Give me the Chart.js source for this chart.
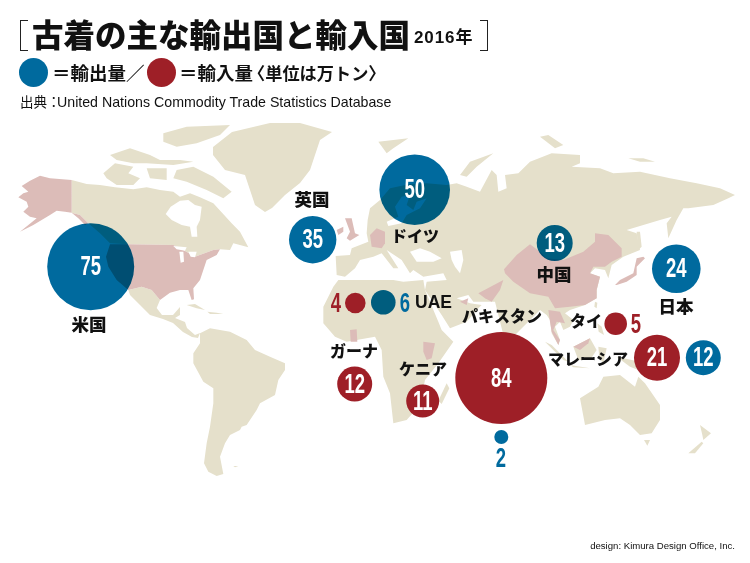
<!DOCTYPE html>
<html lang="ja">
<head>
  <meta charset="UTF-8" />
  <title>古着の主な輸出国と輸入国</title>
  <script src="https://cdn.jsdelivr.net/npm/chart.js"></script>
  <style>
    html, body { margin: 0; padding: 0; background: #fff; }
    body { width: 750px; height: 563px; position: relative; overflow: hidden; font-family: "Noto Sans CJK JP", sans-serif; color: #111; }
    canvas { position: absolute; left: 0; top: 0; }
    .abs { position: absolute; white-space: nowrap; line-height: 1; }
    .bracket { position: absolute; top: 20px; width: 7px; height: 29px; border: 1.5px solid #222; }
    .dot { position: absolute; top: 58px; width: 29px; height: 29px; border-radius: 50%; }
  </style>
</head>
<body>
  <canvas id="map" width="750" height="563"></canvas>

  <div class="bracket" style="left:20px;border-right:none"></div>
  <div class="abs" style="left:32px;top:18px;font-size:31.5px;font-weight:900">古着の主な輸出国と輸入国</div>
  <div class="abs" style="left:414px;top:27px;font-size:17px;font-weight:700;letter-spacing:.9px"><span style="font-family:'Liberation Sans'">2016</span>年</div>
  <div class="bracket" style="left:480px;border-left:none"></div>

  <div class="dot" style="left:19px;background:#006a9e"></div>
  <div class="abs" style="left:52px;top:63px;font-size:18.5px;font-weight:700">＝輸出量／</div>
  <div class="dot" style="left:147px;background:#9e1f27"></div>
  <div class="abs" style="left:179px;top:63px;font-size:18.5px;font-weight:700">＝輸入量</div>
  <div class="abs" style="left:248px;top:64px;font-size:17.2px;font-weight:700">〈単位は万トン〉</div>
  <div class="abs" style="left:20px;top:95px;font-size:14.2px;font-family:'Liberation Sans'"><span style="font-family:'Noto Sans CJK JP';font-size:13.5px;display:inline-block;width:37px">出典：</span>United Nations Commodity Trade Statistics Database</div>
  <div class="abs" style="right:15px;top:541px;font-size:9.6px;font-family:'Liberation Sans'">design: Kimura Design Office, Inc.</div>

  <script>
    // export bubbles (blue)
    const exportNames = ['米国', '英国', 'ドイツ', 'UAE', '中国', '日本', 'マレーシア', 'パキスタン'];
    const exportValues = [75, 35, 50, 6, 13, 24, 12, 2];
    const exportX = [90.7, 312.7, 414.7, 383.3, 554.7, 676.3, 703.3, 501.3];
    const exportY = [266.7, 239.7, 189.7, 302.3, 243, 268.7, 357.7, 437];
    const exportR = [43.5, 23.7, 35.3, 12.3, 18, 24.3, 17.5, 7];

    // import bubbles (red)
    const importNames = ['パキスタン', 'マレーシア', 'ガーナ', 'ケニア', 'タイ', 'UAE'];
    const importValues = [84, 21, 12, 11, 5, 4];
    const importX = [501.3, 657, 354.7, 422.7, 615.7, 355.3];
    const importY = [378, 357.7, 384, 401, 323.7, 303];
    const importR = [46, 23, 17.5, 16.5, 11.3, 10.3];

    // country names and where they sit
    const nameTexts = ['米国', '英国', 'ドイツ', '中国', '日本', 'UAE', 'パキスタン', 'タイ', 'マレーシア', 'ガーナ', 'ケニア'];
    const nameX = [89, 312, 415, 554, 676, 433.5, 502, 586, 588, 354, 423];
    const nameY = [326, 201, 238, 276, 308, 303, 318, 323, 361, 353, 371];

    // numbers that sit beside their bubble instead of inside it
    const outsideValues = [4, 6, 5, 2];
    const outsideColors = ['#9e1f27', '#006a9e', '#9e1f27', '#006a9e'];
    const outsideX = [336, 405, 636, 501];
    const outsideY = [303, 303, 324, 458];

    // picture coordinates came from zoomed crops, z() undoes the crop
    function z(ox, oy, pts) {
      const out = [];
      for (let i = 0; i < pts.length; i += 2) out.push([ox + pts[i] / 3, oy + pts[i + 1] / 3]);
      return out;
    }

    const landShapes = [
      // canada
      z(0, 110, [215,210,260,222,300,225,345,232,400,238,440,232,480,240,520,245,540,260,570,250,600,262,640,280,695,340,720,365,745,412,700,400,690,420,660,418,640,420,585,440,550,420,520,405,385,403,330,400,300,370,265,340,240,315,215,308]),
      // arctic islands
      z(0, 110, [310,190,345,160,400,170,385,190,420,205,400,225,350,225,320,205]),
      z(0, 110, [490,70,560,50,690,45,660,75,590,100,530,110,490,95]),
      z(0, 110, [330,135,390,115,450,135,480,150,540,150,580,155,520,165,440,160,400,160,350,150]),
      z(0, 110, [530,180,580,170,640,200,695,245,670,265,620,240,560,215,520,205]),
      z(0, 110, [440,175,500,175,500,210,450,205]),
      // greenland
      z(0, 0, [639,441,696,396,810,369,900,369,996,396,960,420,945,465,930,510,900,549,855,585,816,624,795,636,765,615,750,570,735,525,675,510,639,465]),
      // mexico and central america
      z(0, 110, [385,540,425,530,455,540,480,570,470,594,486,615,519,615,540,591,540,615,525,624,555,636,561,654,585,675,600,669,594,684,576,681,549,666,519,639,489,627,450,615,420,585,390,555]),
      // caribbean
      z(130, 300, [170,15,195,12,225,30,200,25]),
      z(130, 300, [232,35,260,38,280,42,240,42]),
      // south america
      z(130, 300, [210,100,240,85,300,95,350,120,375,150,420,170,465,190,465,210,445,240,435,285,390,310,380,330,350,375,335,380,330,390,300,405,285,430,270,470,280,522,260,528,235,515,222,490,230,430,240,380,250,310,250,265,220,245,190,190,190,160,210,130]),
      z(130, 300, [310,498,325,498,315,502]),
      // eurasia, west to east then back along the south coast
      z(270, 120, [200,465,197,408,240,405,245,385,295,365,290,340,293,300,300,265,330,240,360,205,420,192,470,190,530,195,560,190,590,200,630,215])
        .concat(z(480, 110, [35,180,50,195,55,245,80,235,75,195,115,190,150,155,215,130,300,135,300,160,275,170,360,175,400,190,480,185,570,205,650,220,720,235,765,255,745,265,700,285,625,295,610,295,590,330,565,385,560,340,575,320,540,330,490,345,440,360,470,370,480,420,430,440,395,465,385,505,375,480,345,475,330,490,360,500,350,540,350,565,315,585,270,600]))
        .concat(z(540, 290, [75,70,100,90,90,110,70,120,60,95,45,110,60,150,55,165,35,130,30,90,20,75,0,60]))
        .concat(z(310, 280, [610,170,590,205,555,65,510,65,490,65,475,45,440,55,480,70,515,75,505,85,470,125,420,145,395,105,345,30,350,5]))
        .concat(z(270, 120, [530,480,520,460,460,470,430,450,420,460,395,420,350,390,385,445,370,445,335,400,310,410,270,420,255,445,225,470])),
      // africa
      z(310, 280, [85,0,70,20,40,80,40,130,75,170,110,185,195,170,215,210,220,290,240,340,250,430,290,420,330,375,345,300,385,250,430,185,395,150,385,125,345,30,340,0,280,5,250,0,200,0,140,0]),
      // islands around eurasia and africa
      z(270, 120, [325,65,370,60,415,55,370,85,350,100]),
      z(270, 120, [570,165,600,125,670,100,620,140,590,170]),
      z(480, 110, [180,80,205,75,250,105,225,115]),
      z(480, 110, [445,145,490,145,525,155,480,155]),
      z(480, 110, [470,365,480,365,485,410,475,420]),
      z(310, 280, [410,310,418,325,395,372,385,362]),
      // indonesia, philippines, new guinea
      z(540, 290, [15,155,35,165,85,215,70,210,40,180]),
      z(540, 290, [100,170,150,145,170,180,150,210,115,210]),
      z(540, 290, [90,225,150,235,100,232]),
      z(540, 290, [175,170,200,175,190,220,178,205]),
      z(540, 290, [165,35,172,38,170,55,163,50]),
      z(540, 290, [172,100,185,110,192,135,176,125]),
      z(540, 290, [230,200,300,215,320,250,270,230]),
      // australia, tasmania, new zealand
      z(540, 290, [120,325,175,290,190,260,240,255,285,290,295,260,315,280,360,345,360,390,335,430,300,435,270,405,240,385,195,390,135,405]),
      z(540, 290, [312,450,330,450,322,467]),
      z(540, 290, [480,405,513,430,490,450,487,435]),
      z(540, 290, [445,490,485,455,490,460,465,490])
    ];

    const pinkShapes = [
      // alaska
      z(0, 110, [215,210,215,308,240,315,265,340,255,345,235,325,215,308,195,305,170,302,150,315,125,330,100,345,60,365,85,345,110,325,90,320,70,305,85,290,80,275,55,262,70,250,85,245,65,228,90,212,120,197,150,205]),
      // usa
      z(0, 110, [330,403,385,403,520,405,550,420,585,440,640,420,660,418,650,435,620,450,610,480,600,510,580,535,582,568,575,570,565,540,540,540,510,548,480,570,455,540,425,530,385,540,350,510,325,470,318,440]),
      // uk, ireland, germany
      z(270, 120, [225,295,245,295,255,340,268,345,240,362,230,355,240,335]),
      z(270, 120, [200,330,220,320,220,335,205,345]),
      z(270, 120, [300,345,320,325,345,335,345,370,335,385,305,380]),
      // china
      z(480, 110, [72,478,110,435,150,403,180,425,200,445,250,450,310,425,345,395,345,370,385,375,425,415,425,440,395,455,375,470,340,470,330,490,360,500,350,540,350,565,315,585,270,590,225,595,205,560,150,550,100,515,75,490]),
      // pakistan, uae
      z(310, 280, [505,40,580,0,570,30,545,65,525,55]),
      z(310, 280, [450,65,475,55,470,75]),
      // ghana, kenya
      z(310, 280, [120,150,140,148,142,185,122,185]),
      z(310, 280, [340,185,375,190,365,235,350,240,340,215]),
      // japan
      z(480, 110, [405,525,420,510,460,490,470,445,490,440,495,445,470,470,470,495,440,515,410,525]),
      // thailand, malaysia
      z(540, 290, [25,60,60,65,75,100,50,95,40,120,60,150,55,165,35,125,30,95]),
      z(540, 290, [100,170,150,145,145,160,120,180])
    ];

    const waterShapes = [
      // hudson bay and the great lakes
      z(0, 110, [497,312,512,290,540,272,565,270,585,285,605,290,600,330,590,350,592,380,575,380,570,350,545,345,515,330]),
      z(0, 110, [520,408,560,412,555,422,530,418]),
      z(0, 110, [538,425,550,425,552,455,542,458]),
      z(0, 110, [565,425,590,425,585,442,572,440]),
      // baltic, black sea, caspian
      z(270, 120, [350,305,385,290,375,260,395,230,420,225,410,255,430,270,440,245,470,235,450,265,410,285,395,310,355,318]),
      z(270, 120, [420,395,450,385,480,395,515,415,490,425,440,425]),
      z(270, 120, [540,395,575,390,580,420,570,460,555,440,545,420])
    ];

    function shapeDataset(pts, color, order) {
      return {
        type: 'scatter',
        data: pts.map(p => ({ x: p[0], y: p[1] })),
        showLine: true,
        fill: 'shape',
        backgroundColor: color,
        borderWidth: 0,
        borderDash: [1], // the fast line path drops points on unsorted x
        pointRadius: 0,
        order: order
      };
    }

    function bubbleDataset(xs, ys, rs, color, blend) {
      return {
        type: 'bubble',
        data: xs.map((x, i) => ({ x: x, y: ys[i], r: rs[i] })),
        backgroundColor: color,
        borderWidth: 0,
        blend: blend,
        order: 0
      };
    }

    const datasets = []
      .concat(landShapes.map(s => shapeDataset(s, '#e5e0cb', 3)))
      .concat(pinkShapes.map(s => shapeDataset(s, '#dcbcb8', 2)))
      .concat(waterShapes.map(s => shapeDataset(s, '#ffffff', 1)));
    datasets.push(bubbleDataset(exportX, exportY, exportR, '#006a9e', true));
    datasets.push(bubbleDataset(importX, importY, importR, '#9e1f27', false));

    // narrow bold digits, squeezed sideways like the poster face
    function drawNumber(c, text, x, y, color) {
      c.save();
      c.translate(x, y);
      c.scale(0.66, 1);
      c.font = 'bold 28px "Liberation Sans Narrow", "Liberation Sans"';
      c.fillStyle = color;
      c.textAlign = 'center';
      c.textBaseline = 'middle';
      c.fillText(text, 0, 1);
      c.restore();
    }

    const blendPlugin = {
      id: 'blend',
      beforeDatasetDraw(chart, args) {
        if (chart.data.datasets[args.index].blend) chart.ctx.globalCompositeOperation = 'multiply';
      },
      afterDatasetDraw(chart) {
        chart.ctx.globalCompositeOperation = 'source-over';
      }
    };

    const labelPlugin = {
      id: 'labels',
      afterDatasetsDraw(chart) {
        const c = chart.ctx, sx = chart.scales.x, sy = chart.scales.y;
        exportValues.forEach((v, i) => {
          if (outsideValues.includes(v)) return;
          drawNumber(c, String(v), sx.getPixelForValue(exportX[i]), sy.getPixelForValue(exportY[i]), '#fff');
        });
        importValues.forEach((v, i) => {
          if (outsideValues.includes(v)) return;
          drawNumber(c, String(v), sx.getPixelForValue(importX[i]), sy.getPixelForValue(importY[i]), '#fff');
        });
        outsideValues.forEach((v, i) => {
          drawNumber(c, String(v), sx.getPixelForValue(outsideX[i]), sy.getPixelForValue(outsideY[i]), outsideColors[i]);
        });
        c.save();
        c.fillStyle = '#111';
        c.textAlign = 'center';
        c.textBaseline = 'middle';
        nameTexts.forEach((t, i) => {
          // katakana names are set a little tighter than the kanji ones
          const size = /[ァ-ヶー]/.test(t) ? 16 : 17.5;
          c.font = '900 ' + size + 'px "Liberation Sans", "Noto Sans CJK JP"';
          c.fillText(t, sx.getPixelForValue(nameX[i]), sy.getPixelForValue(nameY[i]));
        });
        c.restore();
      }
    };

    new Chart(document.getElementById('map'), {
      data: { datasets: datasets },
      plugins: [blendPlugin, labelPlugin],
      options: {
        responsive: false,
        animation: false,
        layout: { padding: 0, autoPadding: false },
        plugins: { legend: { display: false }, tooltip: { enabled: false } },
        elements: { line: { tension: 0 } },
        scales: {
          x: { type: 'linear', min: 0, max: 750, display: false },
          y: { type: 'linear', min: 0, max: 563, reverse: true, display: false }
        }
      }
    });
  </script>
</body>
</html>
